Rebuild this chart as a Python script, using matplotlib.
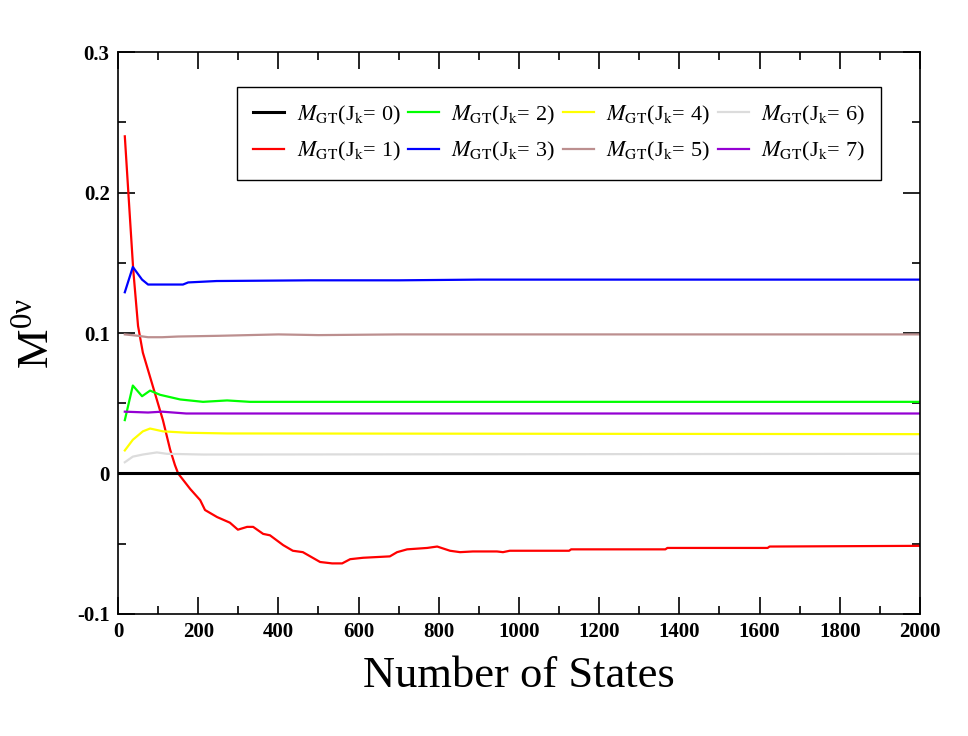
import matplotlib
matplotlib.use("Agg")
import matplotlib.pyplot as plt
from matplotlib.ticker import MultipleLocator

plt.rcParams['font.family'] = ['Liberation Serif', 'DejaVu Serif']
plt.rcParams['mathtext.fontset'] = 'stix'

# ---- data ----
n_j0 = [0, 2000]
m_j0 = [0.0, 0.0]

n_j1 = [17, 30, 38, 50, 62, 87, 112, 130, 142, 150, 180, 205, 217, 247, 279, 299, 322,
        337, 362, 379, 412, 436, 461, 504, 534, 559, 579, 611, 678, 696, 721, 771, 796,
        828, 853, 885, 945, 960, 977, 1125, 1130, 1365, 1370, 1620, 1625, 2000]
m_j1 = [0.240, 0.181, 0.145, 0.105, 0.086, 0.062, 0.038, 0.017, 0.006, 0.0, -0.011,
        -0.019, -0.026, -0.031, -0.035, -0.040, -0.038, -0.038, -0.043, -0.044, -0.051,
        -0.055, -0.056, -0.063, -0.064, -0.064, -0.061, -0.060, -0.059, -0.056, -0.054,
        -0.053, -0.052, -0.055, -0.056, -0.0555, -0.0555, -0.056, -0.055, -0.055, -0.054,
        -0.054, -0.053, -0.053, -0.052, -0.0515]

n_j2 = [17, 37, 60, 80, 105, 155, 212, 272, 329, 600, 2000]
m_j2 = [0.038, 0.0626, 0.055, 0.059, 0.056, 0.0527, 0.051, 0.052, 0.051, 0.051, 0.051]

n_j3 = [17, 37, 60, 75, 162, 175, 246, 479, 700, 900, 1000, 2000]
m_j3 = [0.129, 0.147, 0.138, 0.1345, 0.1345, 0.136, 0.137, 0.1375, 0.1375, 0.138, 0.138, 0.138]

n_j4 = [17, 37, 62, 80, 112, 172, 272, 2000]
m_j4 = [0.0164, 0.024, 0.030, 0.032, 0.030, 0.029, 0.0285, 0.028]

n_j5 = [17, 50, 75, 110, 150, 250, 400, 500, 700, 1000, 2000]
m_j5 = [0.099, 0.098, 0.097, 0.097, 0.0975, 0.098, 0.099, 0.0985, 0.099, 0.099, 0.099]

n_j6 = [17, 37, 62, 97, 122, 212, 2000]
m_j6 = [0.008, 0.012, 0.0135, 0.015, 0.014, 0.0135, 0.014]

n_j7 = [17, 75, 110, 170, 2000]
m_j7 = [0.044, 0.0434, 0.044, 0.0427, 0.0427]

labels = [r'$M_{\mathrm{GT}}$(J$_{\mathrm{k}}$= %d)' % k for k in range(8)]
colors = ['black', '#ff0000', '#00ff00', '#0000ff', '#ffff00', '#bc8f8f', '#dcdcdc', '#9400d3']
series = [(n_j0, m_j0), (n_j1, m_j1), (n_j2, m_j2), (n_j3, m_j3),
          (n_j4, m_j4), (n_j5, m_j5), (n_j6, m_j6), (n_j7, m_j7)]

fig = plt.figure(figsize=(9.68, 7.36), dpi=100)
ax = fig.add_axes([0.1219, 0.1658, 0.8285, 0.7635])

for i, ((n, m), c, lab) in enumerate(zip(series, colors, labels)):
    ax.plot(n, m, color=c, lw=2.2 if i == 0 else 1.6, label=lab, zorder=3 if i == 0 else 2)

ax.set_xlim(0, 2000)
ax.set_ylim(-0.1, 0.3)
ax.xaxis.set_major_locator(MultipleLocator(200))
ax.xaxis.set_minor_locator(MultipleLocator(100))
ax.yaxis.set_major_locator(MultipleLocator(0.1))
ax.yaxis.set_minor_locator(MultipleLocator(0.05))
ax.set_yticks([-0.1, 0, 0.1, 0.2, 0.3])
ax.set_yticklabels(['-0.1', '0', '0.1', '0.2', '0.3'])

ax.tick_params(which='both', direction='in', top=True, right=True, width=1.2)
ax.tick_params(which='major', length=12, labelsize=15, pad=6)
ax.tick_params(which='minor', length=6)
for lab in ax.get_xticklabels() + ax.get_yticklabels():
    lab.set_fontweight('bold')
for s in ax.spines.values():
    s.set_linewidth(1.2)

ax.set_xlabel('Number of States', fontsize=32, labelpad=10)
ax.set_ylabel('M$^{\\mathregular{0ν}}$', fontsize=32, labelpad=14)

leg = ax.legend(ncol=4, loc='upper left', bbox_to_anchor=(0.148, 0.938), fontsize=16,
                frameon=True, fancybox=False, edgecolor='black', framealpha=1,
                handlelength=1.4, columnspacing=0.35, handletextpad=0.55,
                borderpad=0.75, labelspacing=0.6, borderaxespad=0)
leg.get_frame().set_linewidth(1.0)

fig.savefig('out.png', dpi=100)
